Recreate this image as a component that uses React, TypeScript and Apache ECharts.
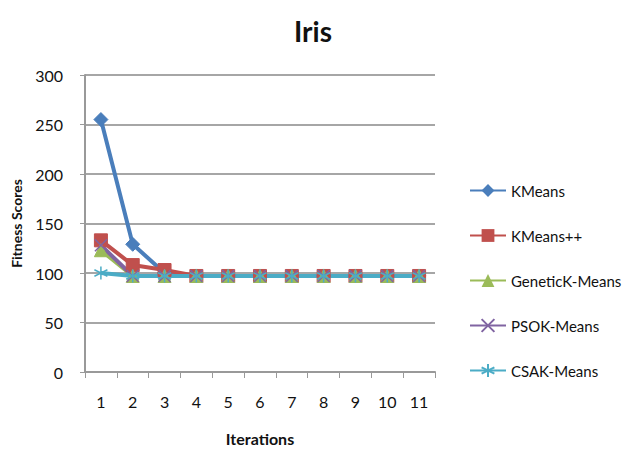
import React, { useEffect, useRef } from "react";
import * as echarts from "echarts";

const iterations = ["1", "2", "3", "4", "5", "6", "7", "8", "9", "10", "11"];
const kmeans = [255, 129, 100, 97, 97, 97, 97, 97, 97, 97, 97];
const kmeansPP = [133, 108, 103, 97, 97, 97, 97, 97, 97, 97, 97];
const geneticKMeans = [123, 97, 97, 97, 97, 97, 97, 97, 97, 97, 97];
const psoKMeans = [128, 97, 97, 97, 97, 97, 97, 97, 97, 97, 97];
const csaKMeans = [100, 97, 97, 97, 97, 97, 97, 97, 97, 97, 97];

const crossPath = "path://M0,0L10,10M10,0L0,10";
const asteriskPath = "path://M5,0L5,10M0,2.5L10,7.5M0,7.5L10,2.5";

const FONT = "Lato, 'Open Sans', sans-serif";

export default function App() {
  const ref = useRef<HTMLDivElement>(null);

  useEffect(() => {
    if (!ref.current) return;
    const chart = echarts.init(ref.current, undefined, { renderer: "svg" });
    const mk = (
      name: string,
      data: number[],
      color: string,
      symbol: string,
      symbolSize: number,
      markerStyle: any = {}
    ) => ({
      name,
      type: "line",
      data,
      symbol,
      symbolSize,
      showAllSymbol: true,
      lineStyle: { color, width: 4 },
      itemStyle: { color, borderColor: color, ...markerStyle },
    });
    chart.setOption({
      animation: false,
      backgroundColor: "#ffffff",
      textStyle: { fontFamily: FONT },
      title: {
        text: "Iris",
        left: 308,
        textAlign: "center",
        top: 12,
        textStyle: { fontFamily: FONT, fontSize: 28, fontWeight: "bold", color: "#111" },
      },
      grid: { left: 85, right: 195, top: 75, bottom: 78 },
      legend: {
        orient: "vertical",
        left: 464,
        top: 178,
        itemGap: 30,
        itemWidth: 36,
        itemHeight: 16,
        textStyle: { fontFamily: FONT, fontSize: 15, color: "#111" },
        data: ["KMeans", "KMeans++", "GeneticK-Means", "PSOK-Means", "CSAK-Means"],
      },
      xAxis: {
        type: "category",
        data: iterations,
        boundaryGap: true,
        name: "Iterations",
        nameLocation: "middle",
        nameGap: 58,
        nameTextStyle: { fontFamily: FONT, fontSize: 16, fontWeight: "bold", color: "#111" },
        axisLine: { lineStyle: { color: "#999", width: 2 } },
        axisTick: { show: true, length: 6, lineStyle: { color: "#999" } },
        axisLabel: { fontSize: 16, color: "#111", margin: 21 },
      },
      yAxis: {
        type: "value",
        min: 0,
        max: 300,
        interval: 50,
        name: "Fitness Scores",
        nameLocation: "middle",
        nameGap: 62,
        nameTextStyle: { fontFamily: FONT, fontSize: 14, fontWeight: "bold", color: "#111" },
        axisLine: { show: true, lineStyle: { color: "#999", width: 2 } },
        axisTick: { show: true, length: 5, lineStyle: { color: "#999" } },
        axisLabel: { fontSize: 16, color: "#111", margin: 22 },
        splitLine: { lineStyle: { color: "#888", width: 1.5 } },
      },
      series: [
        mk("KMeans", kmeans, "#4a7ebb", "diamond", 14),
        mk("KMeans++", kmeansPP, "#c0504d", "rect", 13),
        mk("GeneticK-Means", geneticKMeans, "#9bbb59", "triangle", 13),
        mk("PSOK-Means", psoKMeans, "#8064a2", crossPath, 12, { borderWidth: 1.5, color: "#8064a2" }),
        mk("CSAK-Means", csaKMeans, "#4bacc6", asteriskPath, 13, { borderWidth: 1.5, color: "#4bacc6" }),
      ],
    });
    return () => chart.dispose();
  }, []);

  return <div ref={ref} style={{ width: 630, height: 451, position: "absolute", left: 0, top: 0 }} />;
}
